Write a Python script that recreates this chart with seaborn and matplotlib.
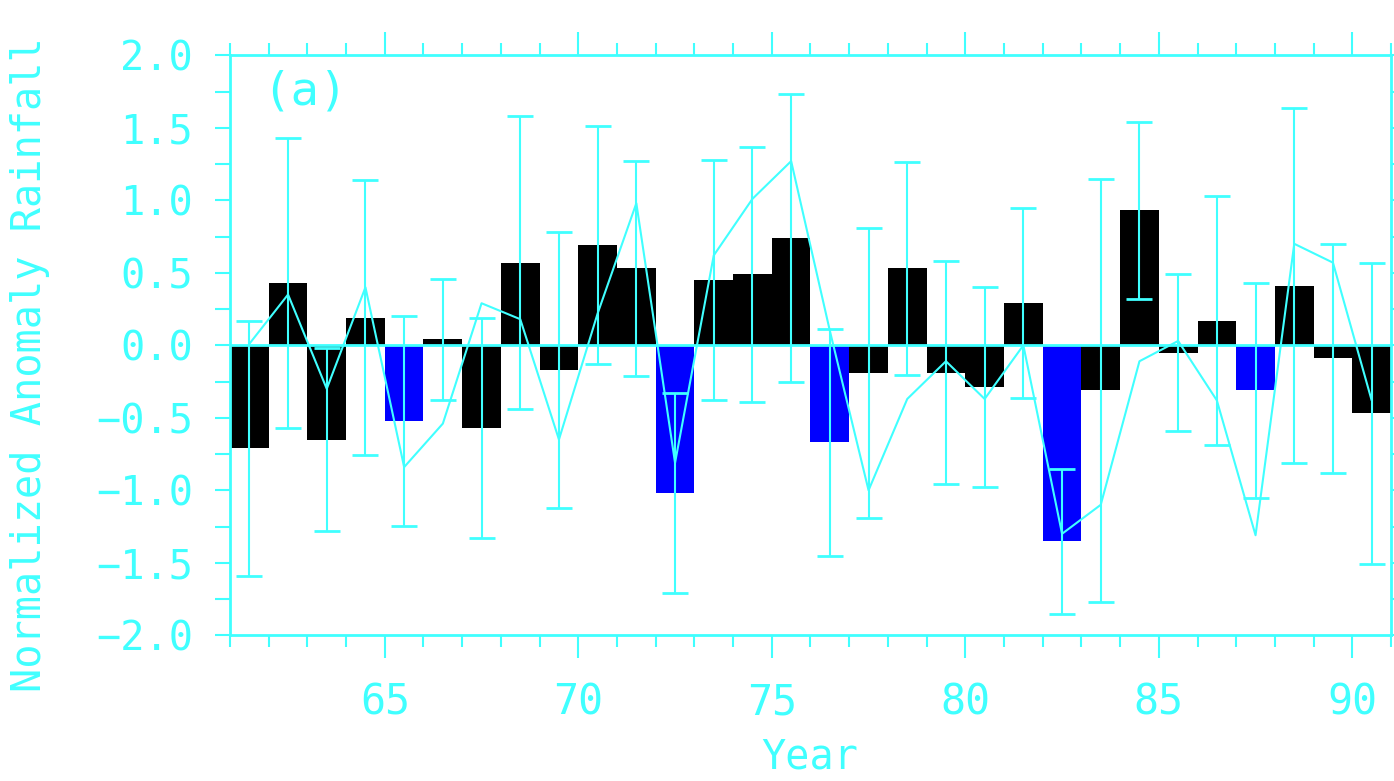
import numpy as np
import pandas as pd
import matplotlib
matplotlib.use("Agg")
import matplotlib.pyplot as plt
from matplotlib.ticker import MultipleLocator
import seaborn as sns

# Seasonal rainfall anomaly per year (bars), its uncertainty (half-width of the
# error bars) and the predicted anomaly (thin line)
years = list(range(61, 91))
anomaly = [-0.71, 0.43, -0.65, 0.19, -0.52, 0.04, -0.57, 0.57, -0.17, 0.69,
           0.53, -1.02, 0.45, 0.49, 0.74, -0.67, -0.19, 0.53, -0.19, -0.29,
           0.29, -1.35, -0.31, 0.93, -0.05, 0.17, -0.31, 0.41, -0.09, -0.47]
error = [0.88, 1.00, 0.63, 0.95, 0.725, 0.42, 0.76, 1.01, 0.95, 0.82,
         0.74, 0.69, 0.83, 0.88, 0.99, 0.78, 1.00, 0.735, 0.77, 0.69,
         0.655, 0.50, 1.46, 0.61, 0.54, 0.86, 0.74, 1.225, 0.79, 1.04]
predicted = [0.01, 0.35, -0.30, 0.40, -0.84, -0.54, 0.29, 0.18, -0.65, 0.22,
             0.98, -0.81, 0.62, 1.01, 1.27, 0.10, -1.00, -0.37, -0.11, -0.37,
             0.00, -1.30, -1.10, -0.11, 0.03, -0.38, -1.31, 0.70, 0.57, -0.38]
warm_years = [65, 72, 76, 82, 87]

x_ticks = [65, 70, 75, 80, 85, 90]
x_labels = ["65", "70", "75", "80", "85", "90"]
y_ticks = [-2.0, -1.5, -1.0, -0.5, 0.0, 0.5, 1.0, 1.5, 2.0]
y_labels = ["\u22122.0", "\u22121.5", "\u22121.0", "\u22120.5", "0.0",
            "0.5", "1.0", "1.5", "2.0"]

CYAN = "#40FFFF"
BLUE = "#0000FF"

sns.set_style("white")
plt.rcParams["font.family"] = ["DejaVu Sans Mono", "DejaVu Sans"]

df = pd.DataFrame({"year": years, "anomaly": anomaly,
                   "error": error, "predicted": predicted})
df["center"] = df["year"] + 0.5
df["kind"] = np.where(df["year"].isin(warm_years), "warm", "other")

fig = plt.figure(figsize=(13.94, 7.81), dpi=100)
ax = fig.add_axes([0.16499, 0.18656, 0.83286, 0.74264])

sns.barplot(data=df, x="center", y="anomaly", hue="kind",
            palette={"warm": BLUE, "other": "black"}, native_scale=True,
            width=1.0, errorbar=None, saturation=1, linewidth=0,
            legend=False, dodge=False, ax=ax, zorder=2)

ax.axhline(0, color=CYAN, lw=2, zorder=3)

sns.lineplot(data=df, x="center", y="predicted", color=CYAN, lw=1.5,
             ax=ax, zorder=4)

ax.errorbar(df["center"], df["anomaly"], yerr=df["error"], fmt="none",
            ecolor=CYAN, elinewidth=1.5, capsize=9.7, capthick=2, zorder=5)

ax.text(62.94, 1.75, "(a)", color=CYAN, fontsize=34, ha="center",
        va="center")

ax.set_xlim(61, 91)
ax.set_ylim(-2, 2)
ax.set_xticks(x_ticks)
ax.set_xticklabels(x_labels)
ax.xaxis.set_minor_locator(MultipleLocator(1))
ax.set_yticks(y_ticks)
ax.set_yticklabels(y_labels)
ax.yaxis.set_minor_locator(MultipleLocator(0.25))

ax.tick_params(axis="x", which="both", top=True, bottom=True,
               direction="out", colors=CYAN, width=1.5)
ax.tick_params(axis="x", which="major", length=16.5, pad=17, labelsize=30)
ax.tick_params(axis="x", which="minor", length=8.5)
ax.tick_params(axis="y", which="both", left=True, right=True,
               direction="out", length=10.8, width=1.5, colors=CYAN)
ax.tick_params(axis="y", which="major", pad=16, labelsize=29)

for spine in ax.spines.values():
    spine.set_color(CYAN)
    spine.set_linewidth(2)
    spine.set_visible(True)

ax.set_xlabel("Year", color=CYAN, fontsize=29)
ax.set_ylabel("Normalized Anomaly Rainfall", color=CYAN, fontsize=29)
ax.xaxis.set_label_coords(0.4996, -0.176)
ax.yaxis.set_label_coords(-0.155, 0.466)

fig.savefig("out.png", dpi=100)
